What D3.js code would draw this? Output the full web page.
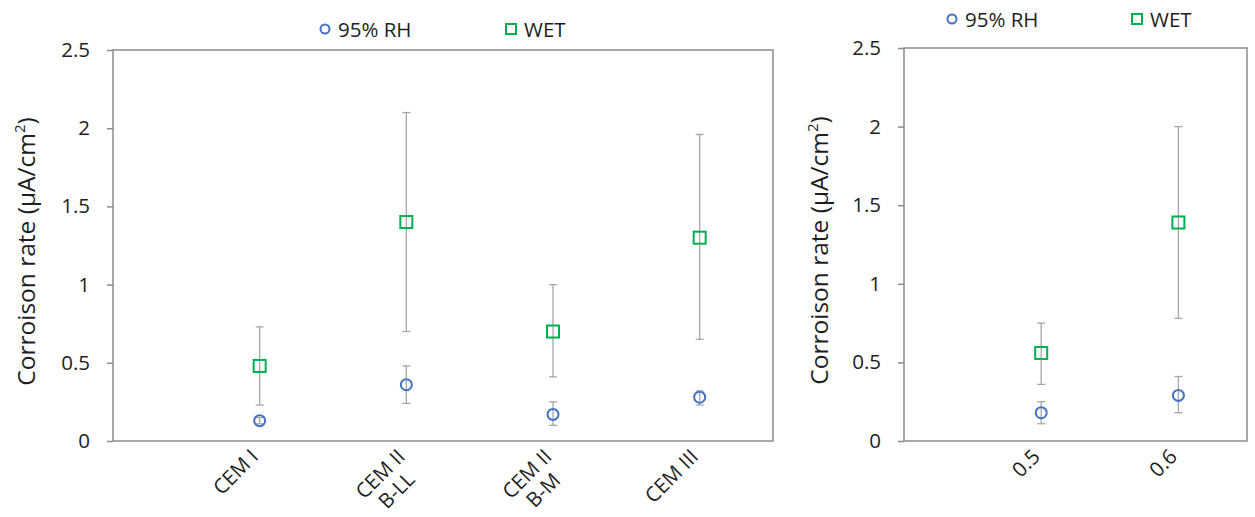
<!DOCTYPE html>
<html>
<head>
<meta charset="utf-8">
<script src="https://cdn.jsdelivr.net/npm/d3@7"></script>
<style>
  body { margin: 0; background: #fff; }
  svg { display: block; font-family: "Open Sans", sans-serif; }
</style>
</head>
<body>
<div id="app"></div>
<script>
// left panel: cement types
const cemCats = [['CEM I'], ['CEM II', 'B-LL'], ['CEM II', 'B-M'], ['CEM III']];
const cemRH = [0.13, 0.36, 0.17, 0.28];
const cemRHLo = [0.11, 0.24, 0.10, 0.23];
const cemRHHi = [0.15, 0.48, 0.25, 0.32];
const cemWet = [0.48, 1.40, 0.70, 1.30];
const cemWetLo = [0.23, 0.70, 0.41, 0.65];
const cemWetHi = [0.73, 2.10, 1.00, 1.96];

// right panel: w/c ratio
const wcCats = [['0.5'], ['0.6']];
const wcRH = [0.18, 0.29];
const wcRHLo = [0.11, 0.18];
const wcRHHi = [0.25, 0.41];
const wcWet = [0.56, 1.39];
const wcWetLo = [0.36, 0.78];
const wcWetHi = [0.75, 2.00];

const yTicks = [0, 0.5, 1, 1.5, 2, 2.5];
const seriesNames = ['95% RH', 'WET'];

const W = 1255, H = 517;
const blue = '#4472c4';
const green = '#00b050';
const frameCol = '#8c8c8c';
const errCol = '#a6a6a6';
const textCol = '#1e1e1e';
const fs = 20.5;

const svg = d3.select('#app').append('svg')
  .attr('width', W)
  .attr('height', H);

const drawPanel = (cfg) => {
  const { left, right, top, bottom, cats, rh, rhLo, rhHi, wet, wetLo, wetHi, labelX, legend } = cfg;
  const x = d3.scaleLinear().domain([0, cats.length + 0.5]).range([left, right]);
  const y = d3.scaleLinear().domain([0, 2.5]).range([bottom, top]);

  const g = svg.append('g');

  // frame
  g.append('rect')
    .attr('x', left).attr('y', top)
    .attr('width', right - left).attr('height', bottom - top)
    .attr('fill', 'none')
    .attr('stroke', frameCol)
    .attr('stroke-width', 1.5);

  // y axis
  const yAxis = d3.axisLeft(y).tickValues(yTicks).tickSize(6).tickPadding(17)
    .tickFormat(d3.format(''));
  const ya = g.append('g').attr('transform', `translate(${left},0)`).call(yAxis);
  ya.select('.domain').remove();
  ya.selectAll('line').attr('stroke', frameCol).attr('stroke-width', 1.5);
  ya.selectAll('text').attr('font-size', fs).attr('fill', textCol)
    .attr('font-family', '"Open Sans", sans-serif');

  // y title
  const yt = g.append('text')
    .attr('transform', `translate(${labelX},${(top + bottom) / 2 + 6}) rotate(-90)`)
    .attr('text-anchor', 'middle')
    .attr('font-size', 24.5)
    .attr('fill', textCol);
  yt.append('tspan').text('Corroison rate (μA/cm');
  yt.append('tspan').attr('font-size', 15).attr('dy', -10).text('2');
  yt.append('tspan').attr('dy', 10).text(')');

  // x labels, rotated
  cats.forEach((lines, i) => {
    const lg = g.append('g')
      .attr('transform', `translate(${x(i + 1)},${bottom + 17}) rotate(-45)`);
    const t = lg.append('text')
      .attr('font-size', fs)
      .attr('fill', textCol)
      .attr('text-anchor', 'end')
      .text(lines[0]);
    if (lines.length > 1) {
      const w1 = t.node().getComputedTextLength();
      t.attr('text-anchor', 'middle').attr('x', -w1 / 2);
      lg.append('text')
        .attr('font-size', fs)
        .attr('fill', textCol)
        .attr('text-anchor', 'middle')
        .attr('x', -w1 / 2)
        .attr('y', 23)
        .text(lines[1]);
    }
  });

  // error bars
  const errBars = (vals, lo, hi) => {
    vals.forEach((v, i) => {
      const cx = x(i + 1);
      g.append('line')
        .attr('x1', cx).attr('x2', cx)
        .attr('y1', y(lo[i])).attr('y2', y(hi[i]))
        .attr('stroke', errCol).attr('stroke-width', 1.3);
      [lo[i], hi[i]].forEach(e => {
        g.append('line')
          .attr('x1', cx - 4).attr('x2', cx + 4)
          .attr('y1', y(e)).attr('y2', y(e))
          .attr('stroke', errCol).attr('stroke-width', 1.3);
      });
    });
  };
  errBars(rh, rhLo, rhHi);
  errBars(wet, wetLo, wetHi);

  g.selectAll('circle.rh')
    .data(rh)
    .enter()
    .append('circle')
    .attr('class', 'rh')
    .attr('cx', (d, i) => x(i + 1))
    .attr('cy', d => y(d))
    .attr('r', 5.5)
    .attr('fill', 'none')
    .attr('stroke', blue)
    .attr('stroke-width', 2);

  g.selectAll('rect.wet')
    .data(wet)
    .enter()
    .append('rect')
    .attr('class', 'wet')
    .attr('x', (d, i) => x(i + 1) - 6)
    .attr('y', d => y(d) - 6)
    .attr('width', 12)
    .attr('height', 12)
    .attr('fill', 'none')
    .attr('stroke', green)
    .attr('stroke-width', 2);

  // legend
  const lg = g.append('g').attr('transform', `translate(0,${legend.y})`);
  lg.append('circle')
    .attr('cx', legend.x1).attr('cy', 0).attr('r', 4.5)
    .attr('fill', 'none').attr('stroke', blue).attr('stroke-width', 2);
  lg.append('text')
    .attr('x', legend.x1 + 13).attr('y', 7.5)
    .attr('font-size', fs).attr('fill', textCol)
    .text(seriesNames[0]);
  lg.append('rect')
    .attr('x', legend.x2 - 5).attr('y', -5)
    .attr('width', 10).attr('height', 10)
    .attr('fill', 'none').attr('stroke', green).attr('stroke-width', 2);
  lg.append('text')
    .attr('x', legend.x2 + 13).attr('y', 7.5)
    .attr('font-size', fs).attr('fill', textCol)
    .text(seriesNames[1]);
};

drawPanel({
  left: 113, right: 773, top: 50, bottom: 441,
  cats: cemCats, rh: cemRH, rhLo: cemRHLo, rhHi: cemRHHi,
  wet: cemWet, wetLo: cemWetLo, wetHi: cemWetHi,
  labelX: 35,
  legend: { x1: 325, x2: 511, y: 29 }
});

drawPanel({
  left: 904, right: 1247, top: 48, bottom: 441,
  cats: wcCats, rh: wcRH, rhLo: wcRHLo, rhHi: wcRHHi,
  wet: wcWet, wetLo: wcWetLo, wetHi: wcWetHi,
  labelX: 828,
  legend: { x1: 952, x2: 1137, y: 19 }
});
</script>
</body>
</html>
